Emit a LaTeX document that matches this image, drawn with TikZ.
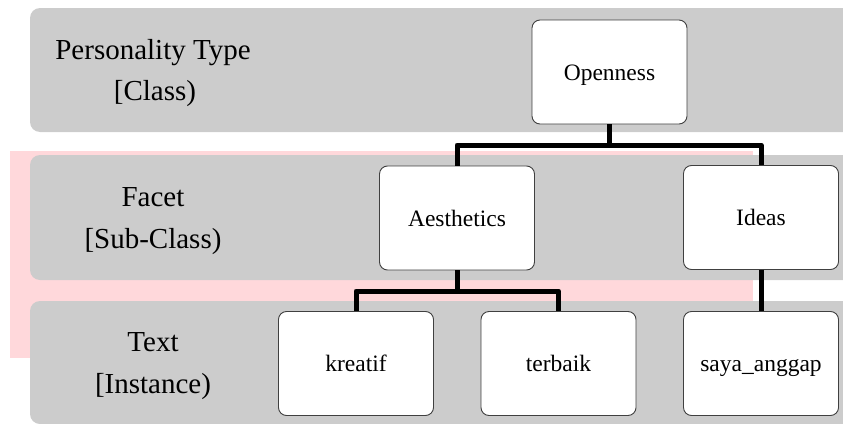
\documentclass[tikz,border=0pt]{standalone}
\usepackage{fontspec}
\setmainfont{Liberation Serif}
\definecolor{bandgray}{RGB}{204,204,204}
\definecolor{pinkbg}{RGB}{255,216,219}
\begin{document}
\begin{tikzpicture}[x=1pt,y=-1pt,
 band/.style={fill=bandgray, rounded corners=10pt},
 box/.style={draw=black!75, fill=white, rounded corners=8pt, line width=0.9pt, minimum width=155pt, minimum height=104pt, inner sep=0pt, text height=16pt, text depth=0pt, font=\fontsize{23.5}{28}\selectfont},
 lbl/.style={anchor=base, inner sep=0pt, font=\fontsize{29}{34}\selectfont},
 link/.style={line width=5pt, line join=round}]
\useasboundingbox (0,0) rectangle (843,423);
\clip (0,0) rectangle (843,423);
\fill[pinkbg] (10,151) rectangle (753,358);
\fill[band] (30,8) rectangle (870,132);
\fill[band] (30,155) rectangle (870,280);
\fill[band] (30,301) rectangle (870,424);
% band labels
\node[lbl] (l1a) at (153,59) {Personality Type};
\node[lbl] (l1b) at (155,100) {[Class)};
\node[lbl] (l2a) at (153,206) {Facet};
\node[lbl] (l2b) at (153,248) {[Sub-Class)};
\node[lbl] (l3a) at (153,351) {Text};
\node[lbl] (l3b) at (153,393) {[Instance)};
% boxes
\node[box] (openness) at (609.5,72) {Openness};
\node[box] (aesthetics) at (457,218) {Aesthetics};
\node[box] (ideas) at (761,217.5) {Ideas};
\node[box] (kreatif) at (356,363.5) {kreatif};
\node[box] (terbaik) at (558.5,363.5) {terbaik};
\node[box] (saya) at (761,363.5) {saya\_anggap};
% junctions
\coordinate (j1) at (609.5,145);
\coordinate (j2) at (457,291);
\draw[link] (openness.south) -- (j1);
\draw[link] (aesthetics.north) |- (j1) -| (ideas.north);
\draw[link] (aesthetics.south) -- (j2);
\draw[link] (kreatif.north) |- (j2) -| (terbaik.north);
\draw[link] (ideas.south) -- (saya.north);
\end{tikzpicture}
\end{document}
